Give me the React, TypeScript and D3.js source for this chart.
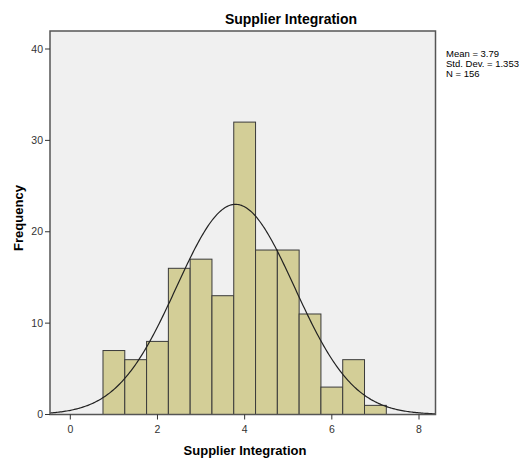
import React from "react";
import * as d3 from "d3";

const binStarts = [0.75, 1.25, 1.75, 2.25, 2.75, 3.25, 3.75, 4.25, 4.75, 5.25, 5.75, 6.25, 6.75];
const counts = [7, 6, 8, 16, 17, 13, 32, 18, 18, 11, 3, 6, 1];
const binWidth = 0.5;
const xTicks = [0, 2, 4, 6, 8];
const yTicks = [0, 10, 20, 30, 40];
const mean = 3.79;
const sd = 1.353;
const n = 156;
const statsLines = ["Mean = 3.79", "Std. Dev. = 1.353", "N = 156"];

export default function App() {
  const W = 527, H = 464;
  const left = 50, right = 435.5, top = 31, bottom = 414.5;
  const x = d3.scaleLinear().domain([0, 8]).range([70.3, 419]);
  const xMin = x.invert(left), xMax = x.invert(right);
  const y = d3.scaleLinear().domain([0, 40]).range([bottom, 49]);

  const pdf = (v: number) => (n * binWidth) / (sd * Math.sqrt(2 * Math.PI)) * Math.exp(-0.5 * ((v - mean) / sd) ** 2);
  const pts = d3.range(0, 301).map(i => xMin + (xMax - xMin) * i / 300);
  const line = d3.line<number>().x(v => x(v)).y(v => y(pdf(v))).curve(d3.curveLinear);

  const font = "'Liberation Sans', Arial, sans-serif";
  return (
    <div style={{ position: "absolute", left: 0, top: 0 }}>
      <svg width={W} height={H} style={{ display: "block", background: "#fff" }}>
        <rect x={left} y={top} width={right - left} height={bottom - top} fill="#f0f0f0" />
        {counts.map((c, i) => (
          <rect key={i} x={x(binStarts[i])} y={y(c)} width={x(binStarts[i] + binWidth) - x(binStarts[i])}
            height={y(0) - y(c)} fill="#d3ce97" stroke="#3a3a3a" strokeWidth={1} />
        ))}
        <path d={line(pts) || ""} fill="none" stroke="#222" strokeWidth={1.2} />
        <rect x={left} y={top} width={right - left} height={bottom - top} fill="none" stroke="#555" strokeWidth={1.5} />
        {yTicks.map(t => (
          <g key={t}>
            <line x1={left - 5} x2={left} y1={y(t)} y2={y(t)} stroke="#333" strokeWidth={1} />
            <text x={left - 7} y={y(t)} dy="0.35em" textAnchor="end" fontSize={10.5} fontFamily={font} fill="#333">{t}</text>
          </g>
        ))}
        {xTicks.map(t => (
          <g key={t}>
            <line x1={x(t)} x2={x(t)} y1={bottom} y2={bottom + 5} stroke="#333" strokeWidth={1} />
            <text x={x(t)} y={bottom + 18} textAnchor="middle" fontSize={10.5} fontFamily={font} fill="#333">{t}</text>
          </g>
        ))}
        <text x={291} y={24} textAnchor="middle" fontSize={14} fontWeight="bold" fontFamily={font} fill="#000">Supplier Integration</text>
        <text x={245} y={455} textAnchor="middle" fontSize={13} fontWeight="bold" fontFamily={font} fill="#000">Supplier Integration</text>
        <text transform="translate(23,218) rotate(-90)" textAnchor="middle" fontSize={13} fontWeight="bold" fontFamily={font} fill="#000">Frequency</text>
        {statsLines.map((s, i) => (
          <text key={s} x={446} y={57 + i * 10.2} fontSize={9.5} fontFamily={font} fill="#000">{s}</text>
        ))}
      </svg>
    </div>
  );
}
